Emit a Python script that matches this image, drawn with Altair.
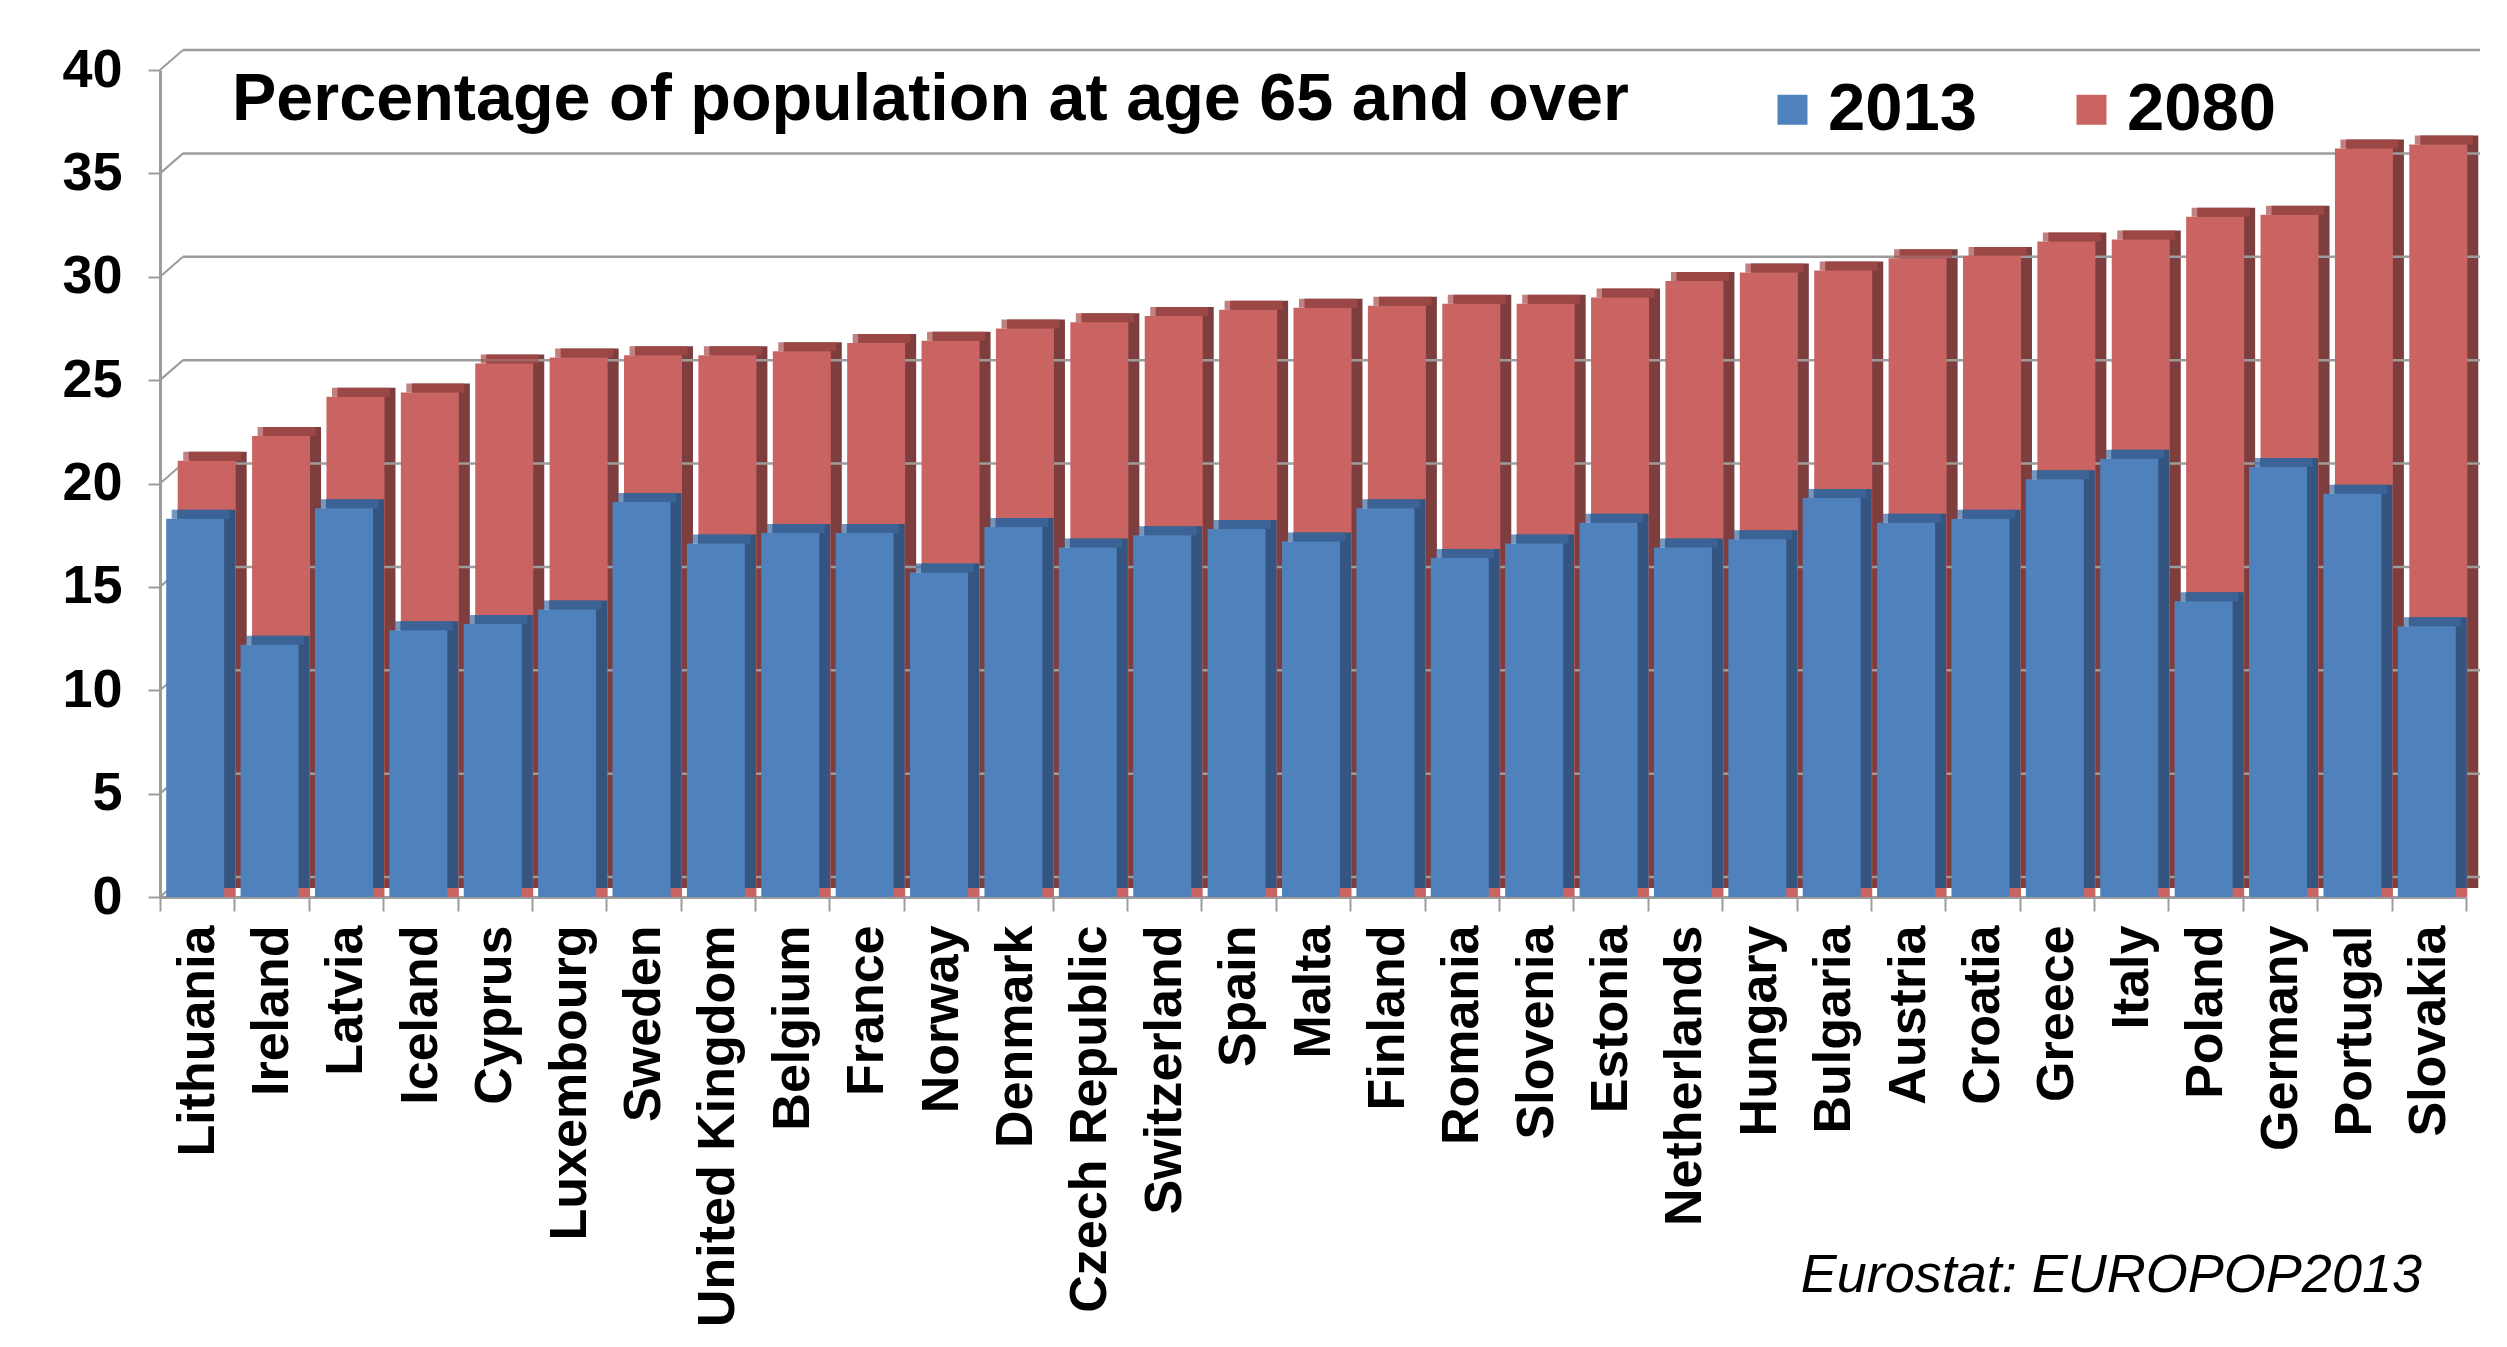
import altair as alt
import pandas as pd

countries = ["Lithuania", "Ireland", "Latvia", "Iceland", "Cyprus", "Luxembourg", "Sweden",
             "United Kingdom", "Belgium", "France", "Norway", "Denmark", "Czech Republic",
             "Switzerland", "Spain", "Malta", "Finland", "Romania", "Slovenia", "Estonia",
             "Netherlands", "Hungary", "Bulgaria", "Austria", "Croatia", "Greece", "Italy",
             "Poland", "Germany", "Portugal", "Slovakia"]
pct_2013 = [18.3, 12.2, 18.8, 12.9, 13.2, 13.9, 19.1, 17.1, 17.6, 17.6, 15.7, 17.9, 16.9,
            17.5, 17.8, 17.2, 18.8, 16.4, 17.1, 18.1, 16.9, 17.3, 19.3, 18.1, 18.3, 20.2,
            21.2, 14.3, 20.8, 19.5, 13.1]
pct_2080 = [21.1, 22.3, 24.2, 24.4, 25.8, 26.1, 26.2, 26.2, 26.4, 26.8, 26.9, 27.5, 27.8,
            28.1, 28.4, 28.5, 28.6, 28.7, 28.7, 29.0, 29.8, 30.2, 30.3, 30.9, 31.0, 31.7,
            31.8, 32.9, 33.0, 36.2, 36.4]
y_ticks = [0, 5, 10, 15, 20, 25, 30, 35, 40]
series = ["2013", "2080"]
title_text = "Percentage of population at age 65 and over"
source_text = "Eurostat: EUROPOP2013"

FONT = "Liberation Sans"
BLUE, BLUE_SIDE, BLUE_TOP = "#4F81BD", "#34557F", "#3E6A9E"
RED, RED_SIDE, RED_TOP = "#C96462", "#7E3E3E", "#A64C4A"
GRID = "#9C9C9C"

W, H = 2306, 827
BAR = 58
DX, DY = 11, 9

df = pd.DataFrame({"country": countries, "v2013": pct_2013, "v2080": pct_2080})
ticks_df = pd.DataFrame({"tick": y_ticks})

x_scale = alt.Scale(paddingInner=0, paddingOuter=0)
x_axis = alt.Axis(title=None, labelAngle=270, labelAlign="right",
                  labelBaseline="middle", labelFont=FONT, labelFontWeight="bold",
                  labelFontSize=52, labelColor="black", labelPadding=14,
                  tickBand="extent", tickColor=GRID, tickSize=14, tickWidth=2,
                  domainColor=GRID, domainWidth=3, labelLimit=0, grid=False)
x_enc = alt.X("country:N", sort=countries, scale=x_scale, axis=x_axis)

y_scale = alt.Scale(domain=[0, 40], nice=False, zero=True)
y_axis = alt.Axis(title=None, values=y_ticks, labelFont=FONT, labelFontWeight="bold",
                  labelFontSize=54, labelColor="black", labelPadding=26,
                  tickColor=GRID, tickSize=12, tickWidth=2,
                  domainColor=GRID, domainWidth=3, grid=False)

def yv(field):
    return alt.Y(f"{field}:Q", scale=y_scale, axis=y_axis, title=None)

color_scale = alt.Scale(domain=series, range=[BLUE, RED])
legend = alt.Legend(title=None, orient="none", legendX=1599, legendY=6,
                    direction="horizontal", symbolType="square", symbolSize=900,
                    symbolStrokeWidth=0, symbolOpacity=1, labelFont=FONT,
                    labelFontWeight="bold", labelFontSize=67, labelColor="black",
                    labelOffset=2, columnPadding=80, padding=0)

base = alt.Chart(df)

red_side = base.mark_bar(color=RED_SIDE, size=BAR, xOffset=9.5 + DX, yOffset=-DY).encode(
    x=x_enc, y=yv("v2080"))
red_top = base.mark_tick(color=RED_TOP, size=BAR, thickness=DY, xOffset=9.5 + DX / 2,
                         yOffset=-DY / 2).encode(x=x_enc, y=yv("v2080"))
red_front = base.mark_bar(size=BAR, xOffset=9.5).transform_calculate(
    series="'2080'").encode(
    x=x_enc, y=yv("v2080"),
    color=alt.Color("series:N", scale=color_scale, legend=legend))

blue_side = base.mark_bar(color=BLUE_SIDE, size=BAR, xOffset=-2 + DX, yOffset=-DY).encode(
    x=x_enc, y=yv("v2013"))
blue_top = base.mark_tick(color=BLUE_TOP, size=BAR, thickness=DY, xOffset=-2 + DX / 2,
                          yOffset=-DY / 2).encode(x=x_enc, y=yv("v2013"))
blue_front = base.mark_bar(size=BAR, xOffset=-2).transform_calculate(
    series="'2013'").encode(
    x=x_enc, y=yv("v2013"),
    color=alt.Color("series:N", scale=color_scale, legend=legend))

# back-wall gridlines and their connectors to the front axis
grid = alt.Chart(ticks_df).mark_rule(color=GRID, strokeWidth=2.5, yOffset=-20).encode(
    y=yv("tick"), x=alt.value(23), x2=alt.value(2320))
conn = alt.Chart(ticks_df).mark_rule(color=GRID, strokeWidth=2, y2Offset=-20).encode(
    y=yv("tick"), y2=alt.Y2("tick:Q"), x=alt.value(0), x2=alt.value(23))

title_layer = alt.Chart(pd.DataFrame({"label": [title_text]})).mark_text(
    font=FONT, fontWeight="bold", fontSize=66.5, align="left", baseline="alphabetic",
    color="black").encode(x=alt.value(72), y=alt.value(50), text="label:N")

source_layer = alt.Chart(pd.DataFrame({"label": [source_text]})).mark_text(
    font=FONT, fontStyle="italic", fontSize=54, align="right", baseline="middle",
    color="black").encode(x=alt.value(2262), y=alt.value(1206), text="label:N")

chart = alt.layer(red_side, grid, conn, red_top, red_front, blue_side, blue_top,
                  blue_front, title_layer, source_layer).properties(
    width=W, height=H,
    autosize=alt.AutoSizeParams(type="none"),
    padding={"left": 160, "top": 70, "right": 41, "bottom": 450},
    background="white",
).configure_view(stroke=None)

chart.save("out.html", embed_options={"renderer": "svg", "actions": False})
